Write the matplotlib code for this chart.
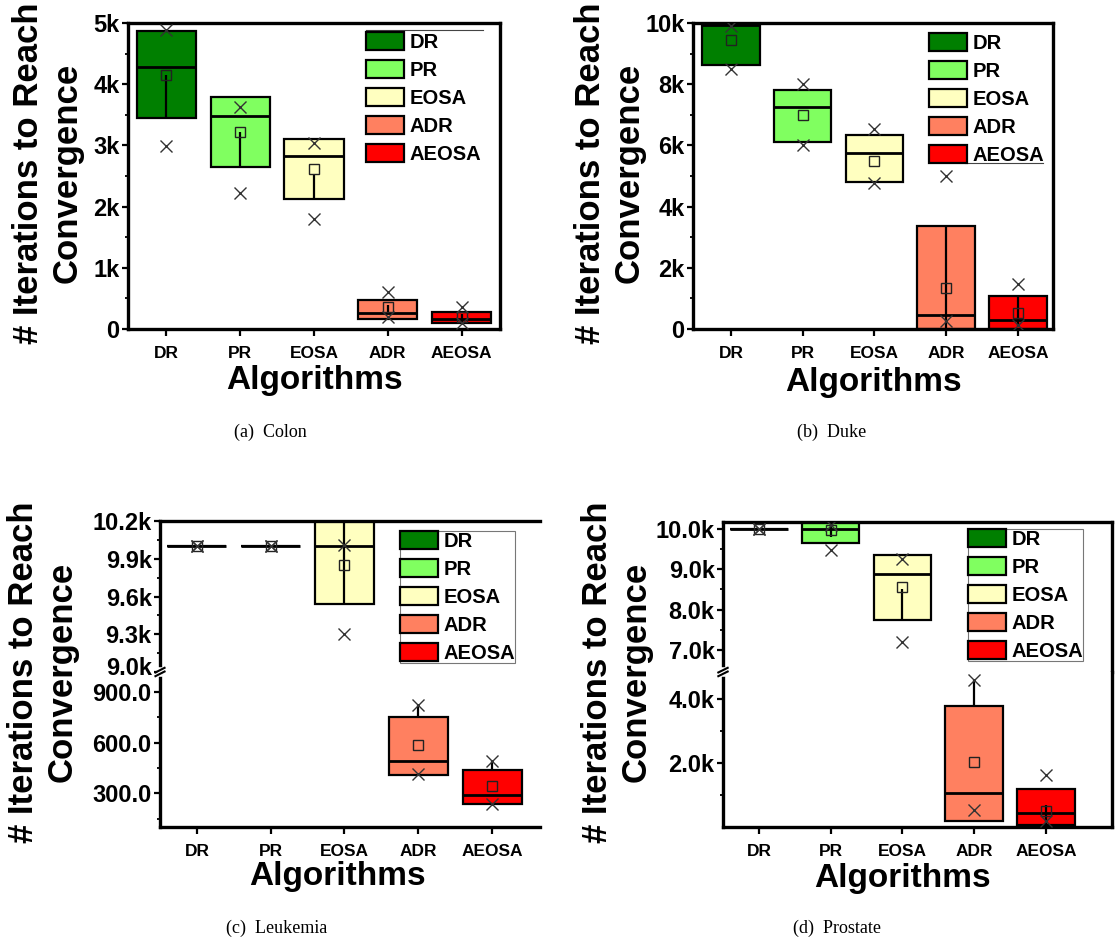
import numpy as np
import matplotlib.pyplot as plt
import matplotlib.transforms as mtransforms
from matplotlib.patches import Patch
from matplotlib.ticker import FuncFormatter, MultipleLocator, FixedLocator

plt.rcParams['font.family'] = ['Liberation Sans', 'DejaVu Sans']
plt.rcParams['font.weight'] = 'bold'

algos = ['DR', 'PR', 'EOSA', 'ADR', 'AEOSA']
colors = ['#007f00', '#80ff60', '#ffffc0', '#ff8060', '#ff0000']
nan = np.nan

# (a) Colon
colon_q1 = [3440, 2640, 2130, 160, 90]
colon_med = [4280, 3480, 2830, 260, 160]
colon_q3 = [4870, 3790, 3110, 470, 280]
colon_mean = [4150, 3220, 2620, 360, 200]
colon_xhi = [4890, 3620, 3040, 610, 360]
colon_xlo = [2990, 2230, 1800, 200, 90]
colon_wlo = [3440, 2640, 2130, 260, 90]
colon_whi = [4150, 3220, 2540, 400, 240]

# (b) Duke
duke_q1 = [8620, 6120, 4820, 0, 0]
duke_med = [9920, 7260, 5740, 470, 300]
duke_q3 = [9920, 7800, 6340, 3370, 1070]
duke_mean = [9430, 6990, 5500, 1340, 520]
duke_xhi = [9900, 8020, 6550, 5000, 1470]
duke_xlo = [8510, 6010, 4760, 250, 140]
duke_wlo = [nan, nan, nan, 0, 100]
duke_whi = [nan, nan, nan, 3370, 1070]

# (c) Leukemia
leuk_q1 = [10000, 10000, 9540, 406, 236]
leuk_med = [10000, 10000, 10000, 490, 290]
leuk_q3 = [10000, 10000, 10250, 752, 437]
leuk_mean = [10000, 10000, 9850, 584, 343]
leuk_xhi = [10000, 10000, 10010, 826, 490]
leuk_xlo = [10000, 10000, 9300, 412, 236]
leuk_wlo = [nan, nan, 9540, 752, 437]
leuk_whi = [nan, nan, 10250, 826, 490]

# (d) Prostate
pros_q1 = [10000, 9650, 7760, 200, 70]
pros_med = [10000, 10000, 8880, 1050, 450]
pros_q3 = [10000, 10250, 9360, 3790, 1190]
pros_mean = [10000, 9960, 8560, 2020, 500]
pros_xhi = [10000, 10080, 9260, 4590, 1640]
pros_xlo = [10000, 9460, 7220, 540, 200]
pros_wlo = [nan, 9800, 7760, 3790, 70]
pros_whi = [nan, 10150, 8500, 4590, 700]

W, H = 1116, 943


def px_axes(l, t, r, b):
    return fig.add_axes([l / W, 1 - b / H, (r - l) / W, (b - t) / H])


def draw(ax, q1, med, q3, mean, xhi, xlo, wlo, whi):
    x = np.arange(len(algos))
    q1 = np.array(q1, float)
    q3 = np.array(q3, float)
    ax.bar(x, q3 - q1, bottom=q1, width=0.8, color=colors,
           edgecolor='black', linewidth=1.6, zorder=2)
    ax.hlines(med, x - 0.4, x + 0.4, colors='black', linewidth=2, zorder=3)
    ax.vlines(x, wlo, whi, colors='black', linewidth=1.6, zorder=3)
    ax.plot(x, mean, 's', mfc='none', mec='#222222', ms=7, mew=1, zorder=4)
    ax.plot(x, xhi, 'x', color='#333333', ms=9, mew=1, zorder=4)
    ax.plot(x, xlo, 'x', color='#333333', ms=9, mew=1, zorder=4)


def style(ax, xticks=True):
    for s in ax.spines.values():
        s.set_linewidth(2.4)
    ax.tick_params(axis='y', labelsize=17, width=1.6, length=4, direction='out', pad=2)
    ax.tick_params(axis='y', which='minor', width=1.3, length=2, direction='out')
    if xticks:
        ax.set_xticks(np.arange(len(algos)))
        ax.set_xticklabels(algos, fontsize=12.5, fontweight='bold')
        ax.tick_params(axis='x', width=1.6, length=5, direction='out', pad=7)
    else:
        ax.set_xticks([])
    for lab in ax.get_yticklabels():
        lab.set_fontweight('bold')


def legend(ax, x, y, frame=False):
    handles = [Patch(facecolor=c, edgecolor='black', linewidth=1.6, label=n)
               for c, n in zip(colors, algos)]
    lg = ax.legend(handles=handles, loc='upper left', bbox_to_anchor=(x, y),
                   fontsize=14.5, handlelength=1.9, handleheight=1.0,
                   handletextpad=0.25, labelspacing=0.4, borderpad=0.0,
                   borderaxespad=0, frameon=frame, fancybox=False)
    if frame:
        lg.get_frame().set_edgecolor('#555555')
        lg.get_frame().set_linewidth(0.8)
    for t in lg.get_texts():
        t.set_fontweight('bold')
    lg.set_zorder(5)
    return lg


def kfmt(dec):
    if dec == 0:
        return FuncFormatter(lambda v, p: '0' if v == 0 else f'{v / 1000:.0f}k')
    return FuncFormatter(lambda v, p: f'{v / 1000:.1f}k')


def breakmark(ax_low, right=False):
    xs = [0, 1] if right else [0]
    for x0 in xs:
        ax_low.plot([x0, x0], [0.985, 1.015], transform=ax_low.transAxes,
                    color='white', lw=4, clip_on=False, zorder=10)
        for dy in (-0.012, 0.012):
            ax_low.plot([x0 - 0.012, x0 + 0.012], [1 + dy - 0.015, 1 + dy + 0.015],
                        transform=ax_low.transAxes, color='black', lw=1.5,
                        clip_on=False, zorder=11)


def lift_bottom_label(ax, pts):
    # nudge the lowest tick label of an upper (broken) axis upward
    fig.canvas.draw()
    labs = ax.get_yticklabels()
    if labs:
        off = mtransforms.ScaledTranslation(0, pts / 72, fig.dpi_scale_trans)
        labs[0].set_transform(labs[0].get_transform() + off)


fig = plt.figure(figsize=(W / 100, H / 100), dpi=100)
ylab = '# Iterations to Reach\nConvergence'

# ---- (a) Colon
ax = px_axes(128, 23, 500, 329)
draw(ax, colon_q1, colon_med, colon_q3, colon_mean, colon_xhi, colon_xlo,
     colon_wlo, colon_whi)
ax.set_xlim(-0.52, 4.52)
ax.set_ylim(0, 5000)
ax.yaxis.set_major_locator(MultipleLocator(1000))
ax.yaxis.set_minor_locator(MultipleLocator(500))
ax.yaxis.set_major_formatter(kfmt(0))
style(ax)
legend(ax, (366 - 128) / 372, (329 - 32) / 306)
ax.plot([(366 - 128) / 372, (483 - 128) / 372], [(329 - 30) / 306] * 2,
        transform=ax.transAxes, color='#444444', lw=0.8)

# ---- (b) Duke
ax = px_axes(693, 23, 1053, 329)
draw(ax, duke_q1, duke_med, duke_q3, duke_mean, duke_xhi, duke_xlo,
     duke_wlo, duke_whi)
ax.set_xlim(-0.53, 4.49)
ax.set_ylim(0, 10000)
ax.yaxis.set_major_locator(MultipleLocator(2000))
ax.yaxis.set_minor_locator(MultipleLocator(1000))
ax.yaxis.set_major_formatter(kfmt(0))
style(ax)
legend(ax, (929 - 693) / 360, (329 - 33) / 306)
ax.plot([(965 - 693) / 360, (1043 - 693) / 360], [(329 - 163) / 306] * 2,
        transform=ax.transAxes, color='#444444', lw=0.8)

# ---- (c) Leukemia (broken axis)
axu = px_axes(160, 521, 540, 672)
axl = px_axes(160, 672, 540, 827)
for a in (axu, axl):
    draw(a, leuk_q1, leuk_med, leuk_q3, leuk_mean, leuk_xhi, leuk_xlo,
         leuk_wlo, leuk_whi)
    a.set_xlim(-0.5, 4.65)
    a.spines['right'].set_visible(False)
axu.set_ylim(9000, 10200)
axu.yaxis.set_major_locator(FixedLocator([9000, 9300, 9600, 9900, 10200]))
axu.yaxis.set_minor_locator(MultipleLocator(150))
axu.yaxis.set_major_formatter(kfmt(1))
axl.set_ylim(100, 1020)
axl.yaxis.set_major_locator(FixedLocator([300, 600, 900]))
axl.yaxis.set_minor_locator(FixedLocator([150, 450, 750]))
axl.yaxis.set_major_formatter(FuncFormatter(lambda v, p: f'{v:.1f}'))
axu.spines['bottom'].set_visible(False)
axl.spines['top'].set_visible(False)
style(axu, xticks=False)
style(axl)
breakmark(axl)
legend(axu, (400 - 160) / 380, (672 - 531) / 151, frame=True)
lift_bottom_label(axu, 4.5)

# ---- (d) Prostate (broken axis)
axu = px_axes(723, 522, 1112, 672)
axl = px_axes(723, 672, 1112, 827)
for a in (axu, axl):
    draw(a, pros_q1, pros_med, pros_q3, pros_mean, pros_xhi, pros_xlo,
         pros_wlo, pros_whi)
    a.set_xlim(-0.5, 4.92)
axu.set_ylim(6470, 10160)
axu.yaxis.set_major_locator(MultipleLocator(1000))
axu.yaxis.set_minor_locator(MultipleLocator(500))
axu.yaxis.set_major_formatter(kfmt(1))
axl.set_ylim(0, 4850)
axl.yaxis.set_major_locator(FixedLocator([2000, 4000]))
axl.yaxis.set_minor_locator(FixedLocator([1000, 3000]))
axl.yaxis.set_major_formatter(kfmt(1))
axu.spines['bottom'].set_visible(False)
axl.spines['top'].set_visible(False)
style(axu, xticks=False)
style(axl)
breakmark(axl)
legend(axu, (968 - 723) / 389, (672 - 529) / 150, frame=True)

# axis titles and captions
for xc, yc in [(48, 173), (610, 173), (43, 672), (617, 672)]:
    fig.text(xc / W, 1 - yc / H, ylab, rotation=90, ha='center', va='center',
             multialignment='center', fontsize=25, fontweight='bold',
             linespacing=1.2)
for xc, yc in [(314, 381), (873, 382), (337, 877), (902, 878)]:
    fig.text(xc / W, 1 - yc / H, 'Algorithms', ha='center', va='center',
             fontsize=24, fontweight='bold')
caps = ['(a)  Colon', '(b)  Duke', '(c)  Leukemia', '(d)  Prostate']
for cap, (xc, yc) in zip(caps, [(270, 432), (832, 432), (277, 928), (837, 928)]):
    fig.text(xc / W, 1 - yc / H, cap, ha='center', va='center', fontsize=13,
             fontweight='normal', family=['Liberation Serif', 'DejaVu Serif'])

fig.savefig('out.png', dpi=100)
